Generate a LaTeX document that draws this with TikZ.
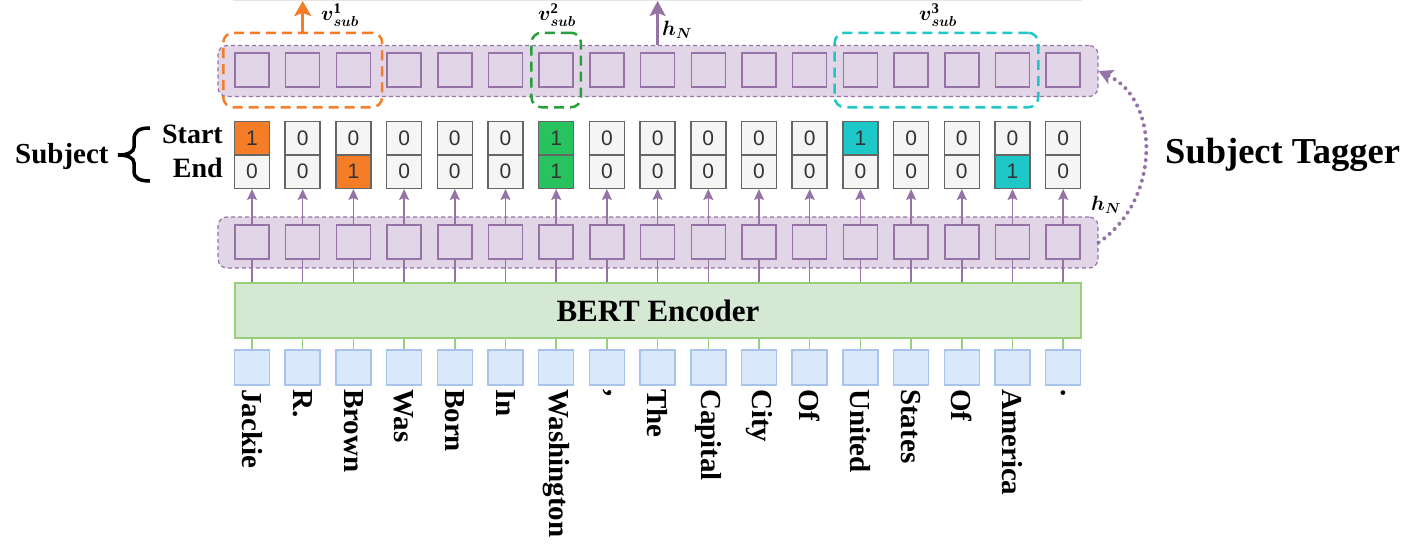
\documentclass[tikz,border=0pt]{standalone}
\usepackage{amsmath}
\usepackage{fontspec}
\setmainfont{Liberation Serif}
\newfontfamily\digitfont{Liberation Sans}
\usetikzlibrary{arrows.meta,positioning,fit}

\definecolor{hidfill}{RGB}{225,213,231}
\definecolor{hidline}{RGB}{150,115,166}
\definecolor{tokfill}{RGB}{218,232,252}
\definecolor{tokline}{RGB}{169,196,235}
\definecolor{encfill}{RGB}{213,232,212}
\definecolor{encline}{RGB}{151,208,119}
\definecolor{cellfill}{RGB}{245,245,245}
\definecolor{cellline}{RGB}{102,102,102}
\definecolor{celltext}{RGB}{51,51,51}
\definecolor{pkorange}{RGB}{245,125,40}
\definecolor{pkgreen}{RGB}{40,195,95}
\definecolor{pkgreenline}{RGB}{40,160,60}
\definecolor{pkcyan}{RGB}{30,200,200}

\begin{document}
\begin{tikzpicture}[x=1pt,y=1pt,
  band/.style={draw=hidline, fill=hidfill, dash pattern=on 4pt off 3pt, line width=1.2pt,
    rounded corners=9pt, minimum width=880pt, minimum height=51pt, inner sep=0pt},
  vec/.style={draw=hidline, fill=hidfill, line width=1.5pt, minimum size=34pt, inner sep=0pt},
  tok/.style={draw=tokline, fill=tokfill, line width=1.5pt, minimum size=35pt, inner sep=0pt},
  enc/.style={draw=encline, fill=encfill, line width=1.5pt, minimum width=846pt,
    minimum height=55pt, font=\bfseries\fontsize{31}{31}\selectfont},
  tag/.style={draw=cellline, line width=1.5pt, minimum width=35pt, minimum height=33.5pt,
    inner sep=0pt, text=celltext, font=\digitfont\fontsize{21}{21}\selectfont},
  word/.style={rotate=-90, anchor=west, inner sep=0pt, font=\bfseries\fontsize{29}{29}\selectfont},
  pick/.style={draw=#1, dash pattern=on 10pt off 6pt, line width=2.5pt, rounded corners=10pt,
    inner ysep=19.5pt},
  link/.style={draw=hidline, line width=1.5pt},
  up/.style={draw=hidline, line width=1.5pt, -{Stealth[length=11pt,width=10pt,inset=2pt]}},
  lab/.style={font=\fontsize{21}{21}\selectfont, inner sep=0pt}]
\useasboundingbox (0,0) rectangle (1418,-547);

% faint edge left over at the top
\draw[gray!20, line width=1pt] (233,-0.5) -- (1082,-0.5);

% the two hidden-state bands
\node[band] (uband) at (658,-71) {};
\node[band] (hband) at (658,-242.5) {};

\foreach \i in {0,...,16} {
  \node[vec] (u\i) at ({252+50.7*\i},-70) {};
  \node[vec] (h\i) at ({252+50.7*\i},-242) {};
  \node[tok] (t\i) at ({252+50.7*\i},-367.5) {};
}

\node[enc] (enc) at (658,-310.5) {BERT Encoder};

% start / end tags
\foreach \sf/\sv/\ef/\ev [count=\i from 0] in {pkorange/1/cellfill/0, cellfill/0/cellfill/0,
    cellfill/0/pkorange/1, cellfill/0/cellfill/0, cellfill/0/cellfill/0, cellfill/0/cellfill/0,
    pkgreen/1/pkgreen/1, cellfill/0/cellfill/0, cellfill/0/cellfill/0, cellfill/0/cellfill/0,
    cellfill/0/cellfill/0, cellfill/0/cellfill/0, pkcyan/1/cellfill/0, cellfill/0/cellfill/0,
    cellfill/0/cellfill/0, cellfill/0/pkcyan/1, cellfill/0/cellfill/0} {
  \node[tag, fill=\sf] (s\i) at ({252+50.7*\i},-138) {\sv};
  \node[tag, fill=\ef] (e\i) at ({252+50.7*\i},-171.5) {\ev};
}

\foreach \i in {0,...,16} {
  \draw[encline, line width=1.5pt] (t\i.north) -- (t\i.north |- enc.south);
  \draw[link] (h\i.south |- enc.north) -- (h\i.south);
  \draw[up] (h\i.north) -- (e\i.south);
}

% tokens
\foreach \w [count=\i from 0] in {Jackie,R.,Brown,Was,Born,In,Washington,{,},The,Capital,City,Of,United,States,Of,America,.}
  \node[word] (w\i) at ({252+50.7*\i},-389) {\w};

% picked subject spans
\node[pick=pkorange, inner xsep=11pt, fit=(u0)(u2)] (pick1) {};
\node[pick=pkgreenline, inner xsep=7pt, fit=(u6)] (pick2) {};
\node[pick=pkcyan, inner xsep=8pt, fit=(u12)(u15)] (pick3) {};

\coordinate (vout) at (u1 |- 0,-1);
\draw[pkorange, line width=3pt, -{Stealth[length=15pt,width=17pt,inset=3pt]}] (pick1.north -| u1) -- (vout);
\coordinate (hout) at (u8 |- 0,-1);
\draw[hidline, line width=2.5pt, -{Stealth[length=15pt,width=16pt,inset=3pt]}] (uband.north -| u8) -- (hout);

\node[lab] (v1) at (340,-15) {$\boldsymbol{v}^{\mathbf{1}}_{\boldsymbol{sub}}$};
\node[lab] (v2) at (557,-15) {$\boldsymbol{v}^{\mathbf{2}}_{\boldsymbol{sub}}$};
\node[lab] (v3) at (938,-15) {$\boldsymbol{v}^{\mathbf{3}}_{\boldsymbol{sub}}$};
\node[lab] (hn1) at (677,-30) {$\boldsymbol{h}_{\boldsymbol{N}}$};
\node[lab] (hn2) at (1106,-205) {$\boldsymbol{h}_{\boldsymbol{N}}$};

% loop back into the tagger
\draw[hidline, line width=4pt, dash pattern=on 0pt off 7pt, line cap=round,
  -{Stealth[length=14pt,width=15pt,inset=3pt]}]
  (hband.east) .. controls +(62,42) and +(62,-29) .. (uband.east);

% left labels
\node[anchor=base west, inner sep=0pt, font=\bfseries\fontsize{29}{29}\selectfont] (subj) at (15,-163) {Subject};
\node[anchor=base east, inner sep=0pt, font=\bfseries\fontsize{28}{28}\selectfont] (start) at (223,-143) {Start};
\node[anchor=base east, inner sep=0pt, font=\bfseries\fontsize{28}{28}\selectfont] (end) at (223,-177) {End};
\draw[line width=3.5pt] (150,-128) .. controls (139,-128) and (134,-131) .. (134,-140) -- (134,-147)
  .. controls (134,-152) and (128,-155) .. (118,-155) .. controls (128,-155) and (134,-158) .. (134,-163)
  -- (134,-171) .. controls (134,-178) and (139,-181) .. (150,-181);

\node[anchor=base west, inner sep=0pt, font=\bfseries\fontsize{36.5}{36.5}\selectfont] (tagger) at (1165,-163) {Subject Tagger};
\end{tikzpicture}
\end{document}
